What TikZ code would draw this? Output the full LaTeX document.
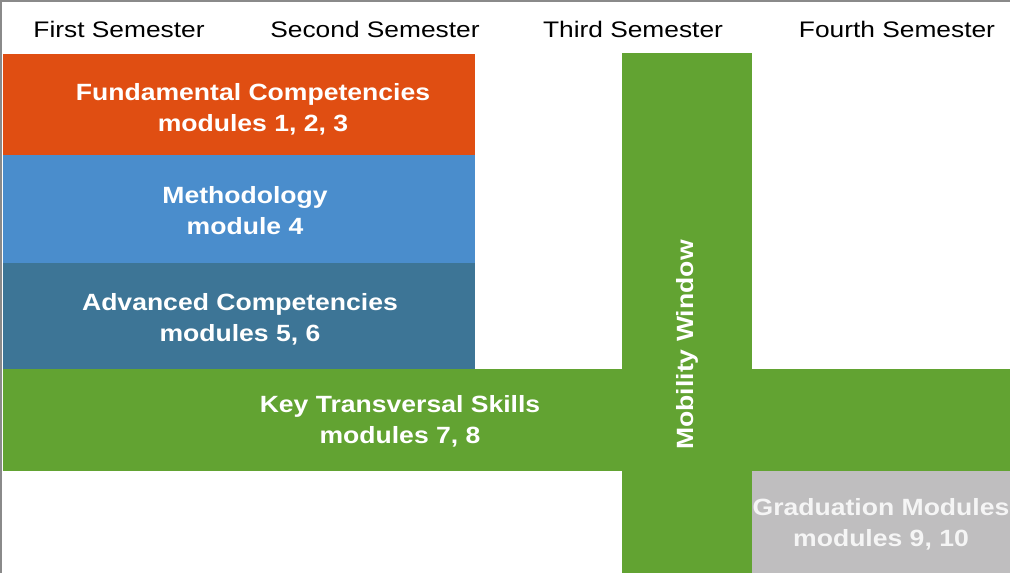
\documentclass[tikz,border=0pt]{standalone}
\usepackage{graphicx}
\usepackage{fontspec}
\setmainfont{Liberation Sans}
\definecolor{cOrange}{HTML}{E04E12}
\definecolor{cBlue}{HTML}{4A8DCC}
\definecolor{cDark}{HTML}{3D7596}
\definecolor{cGreen}{HTML}{62A332}
\definecolor{cGray}{HTML}{BFBEBF}
\definecolor{cFrame}{HTML}{8A8A8A}
\newcommand\sx[1]{\scalebox{1.13}[1]{#1}}
\newcommand\hx[1]{\scalebox{1.17}[1]{#1}}
\tikzset{
  blk/.style={rectangle, inner sep=0pt, outer sep=0pt, draw=none, text=white,
    font=\fontsize{23.5}{31}\selectfont\bfseries, align=center},
  head/.style={inner sep=0pt, font=\fontsize{22.5}{24}\selectfont, text=black}
}
\begin{document}
\begin{tikzpicture}[x=1pt,y=-1pt]
\useasboundingbox (0,0) rectangle (1010,573);
\fill[white] (0,0) rectangle (1010,573);
\draw[cFrame, line width=1.6pt] (1010,1) -- (1.2,1) -- (1.2,573);
% semester headers
\node[head] (s1) at (119,29) {\hx{First Semester}};
\node[head] (s2) at (375,29) {\hx{Second Semester}};
\node[head] (s3) at (633,29) {\hx{Third Semester}};
\node[head] (s4) at (897,29) {\hx{Fourth Semester}};
% module blocks
\node[blk, fill=cOrange, minimum width=472pt, minimum height=101pt, anchor=north west] (fund) at (3,54) {};
\node[blk] (fundt) at (253,109) {\sx{Fundamental Competencies}\\\sx{modules 1, 2, 3}};
\node[blk, fill=cBlue, minimum width=472pt, minimum height=108pt, anchor=north west] (meth) at (3,155) {};
\node[blk] (metht) at (245,211) {\sx{Methodology}\\\sx{module 4}};
\node[blk, fill=cDark, minimum width=472pt, minimum height=106pt, anchor=north west] (adv) at (3,263) {};
\node[blk] (advt) at (240,319) {\sx{Advanced Competencies}\\\sx{modules 5, 6}};
\node[blk, fill=cGreen, minimum width=130pt, minimum height=520pt, anchor=north west] (mob) at (622,53) {};
\node[blk, fill=cGreen, minimum width=1007pt, minimum height=102pt, anchor=north west] (key) at (3,369) {};
\node[blk] (keyt) at (400,421) {\sx{Key Transversal Skills}\\\sx{modules 7, 8}};
\node[blk, rotate=90] (mobt) at (687,345) {\sx{Mobility Window}};
\node[blk, fill=cGray, minimum width=258pt, minimum height=102pt, anchor=north west] (grad) at (752,471) {};
\node[blk, text=white!96!black] (gradt) at (881,524) {\sx{Graduation Modules}\\\sx{modules 9, 10}};
\end{tikzpicture}
\end{document}
